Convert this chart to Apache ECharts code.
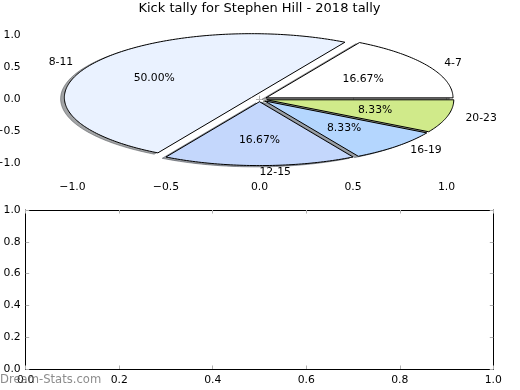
<!DOCTYPE html>
<html>
<head>
<meta charset="utf-8">
<script src="https://cdn.jsdelivr.net/npm/echarts@6/dist/echarts.min.js"></script>
<style>html,body{margin:0;padding:0;background:#fff;}#chart{width:520px;height:390px;}</style>
</head>
<body>
<div id="chart"></div>
<script>
// ---- data ----
const categories = ['4-7', '8-11', '12-15', '16-19', '20-23'];
const values = [2, 6, 2, 1, 1];
const pieTicks = [-1.0, -0.5, 0.0, 0.5, 1.0];
const emptyTicks = [0.0, 0.2, 0.4, 0.6, 0.8, 1.0];
const titleText = 'Kick tally for Stephen Hill - 2018 tally';
const watermark = 'Dream-Stats.com';

// ---- styles ----
const explode = [0.04, 0.05, 0.04, 0.04, 0.04];
const colors = ['#ffffff', '#eaf2ff', '#c4d7fc', '#b4d6fe', '#d0ea8a'];
const FONT = '"DejaVu Sans", sans-serif';
const FS = 10.8;

const total = values.reduce((a, b) => a + b, 0);
const starts = [];
let acc = 0;
values.forEach(v => { starts.push(acc / total * 360); acc += v; });

function hexToRgb(h) {
  const n = parseInt(h.slice(1), 16);
  return [(n >> 16) & 255, (n >> 8) & 255, n & 255];
}
function fmt(v) { const s = Math.abs(v).toFixed(1); return v < 0 ? '\u2212' + s : s; }

function wedgePoints(i, api, ox, oy) {
  const a0 = starts[i], a1 = starts[i] + values[i] / total * 360;
  const mid = (a0 + a1) / 2 * Math.PI / 180;
  const cx = explode[i] * Math.cos(mid) + ox, cy = explode[i] * Math.sin(mid) + oy;
  const pts = [api.coord([cx, cy])];
  const n = Math.max(4, Math.ceil(a1 - a0));
  for (let k = 0; k <= n; k++) {
    const a = (a0 + (a1 - a0) * k / n) * Math.PI / 180;
    pts.push(api.coord([cx + Math.cos(a), cy + Math.sin(a)]));
  }
  return { pts, cx, cy, mid };
}

function renderShadow(params, api) {
  const i = params.dataIndex;
  const w = wedgePoints(i, api, -0.02, -0.02);
  const rgb = hexToRgb(colors[i]).map(c => Math.round(c * 0.3));
  const col = 'rgba(' + rgb.join(',') + ',0.5)';
  return { type: 'polygon', shape: { points: w.pts }, style: { fill: col, stroke: col, lineWidth: 1 } };
}

function renderWedge(params, api) {
  const i = params.dataIndex;
  const w = wedgePoints(i, api, 0, 0);
  const lx = w.cx + 1.1 * Math.cos(w.mid), ly = w.cy + 1.1 * Math.sin(w.mid);
  const px = w.cx + 0.6 * Math.cos(w.mid), py = w.cy + 0.6 * Math.sin(w.mid);
  const lp = api.coord([lx, ly]), pp = api.coord([px, py]);
  const align = Math.round(1.1 * Math.cos(w.mid) * 1e6) >= 0 ? 'left' : 'right';
  return {
    type: 'group',
    children: [
      { type: 'polygon', shape: { points: w.pts }, style: { fill: colors[i], stroke: '#000', lineWidth: 1 } },
      { type: 'text', x: lp[0], y: lp[1], style: { text: categories[i], fill: '#000', font: FS + 'px ' + FONT, align: align, verticalAlign: 'middle' } },
      { type: 'text', x: pp[0], y: pp[1], style: { text: (values[i] / total * 100).toFixed(2) + '%', fill: '#000', font: FS + 'px ' + FONT, align: 'center', verticalAlign: 'middle' } }
    ]
  };
}

const tickStyle = { show: true, inside: true, length: 3.5, lineStyle: { color: '#b0b0b0', width: 1 } };
const labelStyle = { color: '#000', fontFamily: FONT, fontSize: FS };

const chart = echarts.init(document.getElementById('chart'), null, { renderer: 'canvas' });
chart.setOption({
  animation: false,
  backgroundColor: '#fff',
  grid: [
    { left: 25.7, right: 26.7, top: 19.3, bottom: 211, containLabel: false, outerBoundsMode: 'none' },
    { left: 25.7, right: 26.7, top: 210, bottom: 21, containLabel: false, outerBoundsMode: 'none' }
  ],
  xAxis: [
    { gridIndex: 0, type: 'value', min: -1.25, max: 1.25, position: 'bottom',
      axisLine: { show: false }, splitLine: { show: false },
      axisTick: Object.assign({ customValues: pieTicks }, tickStyle),
      axisLabel: Object.assign({ customValues: pieTicks, formatter: fmt, margin: 3 }, labelStyle) },
    { gridIndex: 0, type: 'value', min: -1.25, max: 1.25, position: 'top',
      axisLine: { show: false }, splitLine: { show: false },
      axisTick: Object.assign({ customValues: pieTicks }, tickStyle),
      axisLabel: { show: false } },
    { gridIndex: 1, type: 'value', min: 0, max: 1, interval: 0.2, position: 'bottom',
      axisLine: { show: true, onZero: false, lineStyle: { color: '#000', width: 1 } }, splitLine: { show: false },
      axisTick: tickStyle,
      axisLabel: Object.assign({ formatter: fmt, margin: 6, showMinLabel: true, showMaxLabel: true }, labelStyle) },
    { gridIndex: 1, type: 'value', min: 0, max: 1, interval: 0.2, position: 'top',
      axisLine: { show: true, onZero: false, lineStyle: { color: '#000', width: 1 } }, splitLine: { show: false },
      axisTick: tickStyle, axisLabel: { show: false } }
  ],
  yAxis: [
    { gridIndex: 0, type: 'value', min: -1.25, max: 1.25, position: 'left',
      axisLine: { show: false }, splitLine: { show: false },
      axisTick: Object.assign({ customValues: pieTicks }, tickStyle),
      axisLabel: Object.assign({ customValues: pieTicks, formatter: fmt, margin: 5 }, labelStyle) },
    { gridIndex: 0, type: 'value', min: -1.25, max: 1.25, position: 'right',
      axisLine: { show: false }, splitLine: { show: false },
      axisTick: Object.assign({ customValues: pieTicks }, tickStyle),
      axisLabel: { show: false } },
    { gridIndex: 1, type: 'value', min: 0, max: 1, interval: 0.2, position: 'left',
      axisLine: { show: true, onZero: false, lineStyle: { color: '#000', width: 1 } }, splitLine: { show: false },
      axisTick: tickStyle,
      axisLabel: Object.assign({ formatter: fmt, margin: 5, showMinLabel: true, showMaxLabel: true }, labelStyle) },
    { gridIndex: 1, type: 'value', min: 0, max: 1, interval: 0.2, position: 'right',
      axisLine: { show: true, onZero: false, lineStyle: { color: '#000', width: 1 } }, splitLine: { show: false },
      axisTick: tickStyle, axisLabel: { show: false } }
  ],
  series: [
    { type: 'custom', name: 'shadow', coordinateSystem: 'cartesian2d', xAxisIndex: 0, yAxisIndex: 0,
      clip: false, z: 1, silent: true, renderItem: renderShadow,
      data: categories.map((c, i) => [0, 0, values[i]]) },
    { type: 'custom', name: 'wedges', coordinateSystem: 'cartesian2d', xAxisIndex: 0, yAxisIndex: 0,
      clip: false, z: 2, silent: true, renderItem: renderWedge,
      data: categories.map((c, i) => [0, 0, values[i]]) },
    { type: 'line', xAxisIndex: 2, yAxisIndex: 2, data: [] }
  ],
  graphic: [
    { type: 'text', x: 259.5, y: 9, z: 100,
      style: { text: titleText, fill: '#000', font: '13px ' + FONT, align: 'center', verticalAlign: 'middle' } },
    { type: 'text', x: 0, y: 380, z: 100,
      style: { text: watermark, fill: 'rgba(120,120,120,0.85)', font: '11.6px ' + FONT, align: 'left', verticalAlign: 'middle' } }
  ]
});
</script>
</body>
</html>
